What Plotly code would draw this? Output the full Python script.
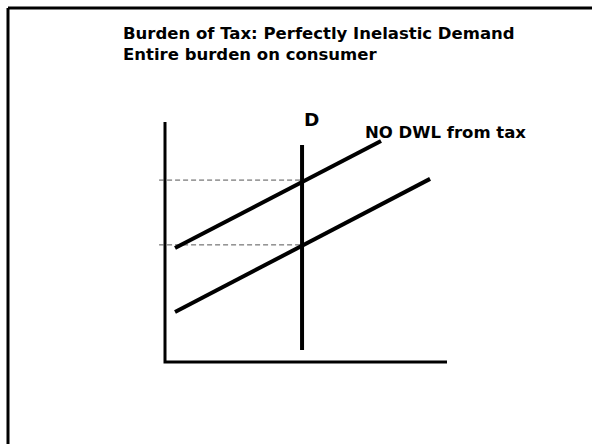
import plotly.graph_objects as go

# Diagram values (quantity on x, price on y)
axis_max_q = 10.0
axis_max_p = 10.0

demand_q = [4.86, 4.86]
demand_p = [0.5, 9.04]

supply_tax_q = [0.355, 7.66]
supply_tax_p = [4.75, 9.21]

supply_q = [0.355, 9.40]
supply_p = [2.08, 7.63]

price_levels = [7.58, 4.88]
price_guide_start = -0.21

title_lines = ["Burden of Tax: Perfectly Inelastic Demand", "Entire burden on consumer"]
demand_label = "D"
note_label = "NO DWL from tax"

W, H = 592, 444
px_per_q = 28.2
px_per_p = 24.0
origin_px = (165, 362)

x_range = [-origin_px[0] / px_per_q, (W - origin_px[0]) / px_per_q]
y_range = [-(H - origin_px[1]) / px_per_p, origin_px[1] / px_per_p]

fig = go.Figure()

# axes
fig.add_trace(go.Scatter(x=[0, 0, axis_max_q], y=[axis_max_p, 0, 0], mode="lines",
                         line=dict(color="black", width=3), hoverinfo="skip"))

# price guides
for p in price_levels:
    fig.add_trace(go.Scatter(x=[price_guide_start, demand_q[0]], y=[p, p], mode="lines",
                             line=dict(color="#555555", width=1, dash="5px,3px"),
                             hoverinfo="skip"))

# demand and supply curves
for qs, ps in [(demand_q, demand_p), (supply_tax_q, supply_tax_p), (supply_q, supply_p)]:
    fig.add_trace(go.Scatter(x=qs, y=ps, mode="lines",
                             line=dict(color="black", width=4), hoverinfo="skip"))

def bold_font(size):
    return dict(family="DejaVu Sans", size=size, color="black")

annotations = [
    dict(x=121 / W, y=1 - 33 / H, text="<b>%s</b>" % title_lines[0], font=bold_font(16.5)),
    dict(x=121 / W, y=1 - 55 / H, text="<b>%s</b>" % title_lines[1], font=bold_font(16.5)),
    dict(x=302 / W, y=1 - 119 / H, text="<b>%s</b>" % demand_label, font=bold_font(18.5)),
    dict(x=363 / W, y=1 - 132 / H, text="<b>%s</b>" % note_label, font=bold_font(16.5)),
]
for a in annotations:
    a.update(xref="paper", yref="paper", xanchor="left", yanchor="middle", showarrow=False)

fig.update_layout(
    width=W, height=H,
    margin=dict(l=0, r=0, t=0, b=0),
    paper_bgcolor="white", plot_bgcolor="white",
    showlegend=False,
    xaxis=dict(range=x_range, visible=False, fixedrange=True),
    yaxis=dict(range=y_range, visible=False, fixedrange=True),
    annotations=annotations,
    shapes=[
        dict(type="line", xref="paper", yref="paper", x0=8 / W, x1=1, y0=1 - 8 / H, y1=1 - 8 / H,
             line=dict(color="black", width=3)),
        dict(type="line", xref="paper", yref="paper", x0=8 / W, x1=8 / W, y0=0, y1=1 - 8 / H,
             line=dict(color="black", width=3)),
    ],
)

fig.write_html("out.html", config=dict(displayModeBar=False))
